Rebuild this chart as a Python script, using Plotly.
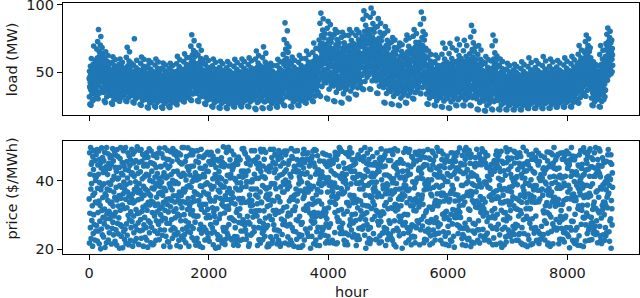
import plotly.graph_objects as go

# Values, in tenths (e.g. 452 -> 45.2).
# Each string is one 120-hour block of the year (73 blocks = 8760 h).
BLOCK_HOURS = 120

LOAD_BLOCKS = [
    "452 318 507 391 263 468 423 544 372 489 255 436 601 398 471 339 522 447 287 415 498 362 559 431 406 694 348 477 389 521 302 443 465 378 586 419 342 497 455 365",
    "563 418 672 495 317 604 541 728 446 589 303 527 816 482 611 397 653 558 345 512 624 468 702 537 579 765 431 596 507 641 362 548 683 459 592 521 384 617 575 489",
    "471 352 538 419 288 497 446 603 398 512 276 458 652 425 489 361 547 463 318 441 528 387 579 452 433 624 369 502 411 546 331 468 491 403 562 437 345 517 476 392",
    "438 327 512 392 271 465 417 571 366 482 263 429 614 398 456 338 519 441 297 413 496 359 548 426 404 593 344 473 385 517 309 437 462 377 531 409 321 488 445 368",
    "443 342 503 401 291 461 425 558 378 479 284 432 597 407 452 351 511 446 313 419 488 368 539 431 412 574 357 469 394 507 326 441 458 386 523 416 338 481 449 374",
    "456 341 531 408 289 478 433 611 379 497 283 447 684 411 469 352 548 459 308 428 512 371 583 439 421 652 359 488 397 536 324 452 476 389 567 424 336 503 463 376",
    "429 331 497 386 279 452 412 553 361 471 272 418 748 392 445 339 506 433 301 407 481 354 532 421 398 589 342 463 379 502 316 428 451 371 518 403 327 474 437 363",
    "432 318 506 384 262 457 409 566 357 478 254 421 612 389 449 331 514 436 291 405 487 351 543 419 397 596 338 466 374 509 303 429 455 366 527 401 314 481 441 359",
    "412 297 487 363 242 437 391 548 338 456 234 402 586 371 428 311 493 417 272 386 468 332 523 399 378 571 318 447 355 489 284 409 434 347 506 383 296 462 421 339",
    "408 301 483 367 249 441 386 553 334 461 241 398 597 366 431 308 497 413 276 391 472 327 528 404 373 576 322 452 351 494 289 411 438 342 511 379 293 466 418 336",
    "398 292 471 356 241 427 378 531 327 446 233 391 568 358 417 302 478 405 268 379 457 321 511 392 364 553 311 437 346 476 281 401 423 338 494 371 289 452 409 331",
    "403 296 468 359 246 424 382 528 331 443 239 394 566 362 414 306 481 401 271 383 454 326 507 396 368 549 316 433 349 473 284 398 427 341 491 376 293 449 411 334",
    "427 318 503 382 268 456 408 563 356 474 259 419 617 387 446 329 512 434 293 403 486 348 541 417 394 592 336 462 372 506 306 426 452 364 524 399 313 478 438 357",
    "442 336 517 397 287 469 421 578 371 489 279 433 637 402 459 346 526 448 309 417 499 363 556 431 409 608 351 476 388 519 322 439 466 379 538 413 331 492 452 372",
    "503 367 608 446 298 552 479 693 418 571 291 497 778 457 538 392 629 511 338 468 583 413 661 489 462 734 401 546 437 617 356 506 529 428 645 474 372 563 516 421",
    "467 344 558 412 289 503 443 627 387 521 283 456 697 421 489 362 572 471 316 432 531 381 601 451 427 663 369 499 403 563 331 463 486 397 587 438 349 516 473 392",
    "428 319 501 383 267 454 407 558 354 473 261 417 608 388 444 327 509 432 292 401 484 347 537 415 392 587 334 461 371 503 304 424 449 362 521 397 312 476 436 356",
    "413 301 486 366 248 438 392 547 337 459 241 403 598 369 429 309 494 416 273 387 471 329 524 401 377 574 319 449 352 492 287 408 436 344 509 381 294 463 422 339",
    "409 294 478 361 239 432 387 537 333 453 232 398 581 364 424 304 486 411 268 382 463 324 516 397 372 563 314 443 347 484 281 404 431 339 501 376 289 457 417 335",
    "401 289 472 354 238 426 379 532 326 447 231 392 579 357 418 299 481 404 264 376 457 318 511 389 366 558 309 437 341 478 277 398 424 333 496 369 284 451 411 329",
    "411 298 483 364 247 436 389 543 335 457 242 401 596 367 427 306 491 414 271 384 468 327 521 399 374 572 316 446 349 489 285 406 433 342 506 378 291 461 419 337",
    "419 304 491 372 251 444 398 551 343 466 243 409 597 376 436 314 498 423 278 392 476 334 529 408 383 579 323 455 357 497 292 414 442 351 514 386 298 469 427 344",
    "421 306 494 374 249 447 401 556 346 468 244 412 606 378 438 316 503 426 281 394 479 337 533 411 386 584 326 457 359 499 294 417 444 353 517 389 301 472 429 347",
    "441 307 523 386 232 472 416 597 351 489 224 427 657 394 458 324 534 446 276 408 506 343 568 432 399 623 331 481 367 527 289 436 463 358 547 403 298 496 451 352",
    "443 309 528 388 236 476 419 608 353 492 231 429 688 397 462 327 539 448 279 411 511 346 576 434 402 641 334 484 371 532 291 439 466 361 553 406 301 499 453 355",
    "398 291 469 356 237 424 381 528 328 444 232 393 566 359 416 301 478 403 267 377 454 321 507 391 367 549 311 434 343 474 279 397 421 336 492 372 287 448 408 331",
    "418 303 489 371 246 443 397 549 342 463 241 407 596 374 434 312 497 421 277 391 474 332 527 406 381 577 321 453 356 494 291 412 439 349 512 384 297 467 426 342",
    "497 352 632 438 258 561 473 742 401 587 251 489 866 447 546 376 671 508 318 459 603 397 713 482 453 807 384 556 423 648 338 501 528 417 689 466 361 579 512 409",
    "426 309 502 378 247 453 404 561 347 472 242 414 613 381 442 317 508 431 279 396 484 337 538 412 388 589 326 459 361 504 294 421 447 354 522 392 302 476 434 348",
    "437 318 512 386 256 463 414 573 357 482 251 424 626 391 452 327 519 441 287 406 494 347 549 423 398 602 336 468 371 514 303 431 458 363 533 402 312 487 444 358",
    "458 337 537 407 276 486 436 601 377 506 271 446 657 411 474 348 546 462 306 427 518 367 576 443 419 631 356 491 392 541 323 453 481 384 559 422 332 511 466 379",
    "488 356 576 434 289 521 464 648 401 541 282 476 716 438 507 369 587 493 323 454 554 389 617 472 446 677 377 524 417 581 342 483 513 408 597 449 352 546 497 401",
    "603 441 738 537 327 668 583 863 496 701 321 602 938 552 653 457 772 621 393 569 712 487 813 594 561 896 472 676 518 753 423 616 641 509 787 576 446 697 628 503",
    "583 422 709 518 308 643 562 826 477 676 302 579 877 532 631 439 741 598 374 549 686 468 783 571 541 853 454 651 498 722 404 592 618 489 757 556 428 671 604 484",
    "552 398 673 489 288 611 532 781 452 641 283 549 817 503 598 416 703 567 352 519 651 443 742 542 511 797 429 618 472 686 383 561 587 463 718 527 405 637 573 458",
    "533 383 651 472 277 589 513 759 436 619 272 529 796 486 577 401 681 547 341 501 629 427 718 523 493 773 414 597 456 663 369 542 567 447 694 508 391 616 552 441",
    "553 404 668 491 308 607 533 773 458 637 302 551 816 507 594 421 699 568 361 521 648 448 736 543 513 792 436 613 476 682 389 562 586 467 712 528 411 633 574 462",
    "561 421 672 503 337 613 544 774 471 642 332 558 817 516 601 437 703 576 384 531 653 463 741 551 523 796 451 621 489 687 407 569 593 481 718 537 428 638 582 476",
    "632 477 768 571 376 703 611 893 533 736 372 628 956 584 683 496 803 652 431 597 747 523 848 623 591 921 508 712 553 782 463 643 671 543 817 604 486 727 659 538",
    "643 483 781 579 377 714 621 907 541 748 373 639 976 593 694 503 816 663 437 606 759 531 861 632 601 938 516 723 562 796 469 654 683 551 831 613 492 738 671 546",
    "591 437 721 529 346 653 568 838 492 683 342 587 897 542 641 453 752 607 397 556 697 478 796 579 549 863 464 662 508 733 421 598 627 498 768 563 443 677 612 494",
    "543 386 667 481 277 603 523 788 443 631 272 539 838 494 587 407 697 557 342 509 643 433 737 533 502 807 418 608 463 678 371 551 576 453 712 518 394 627 563 449",
    "503 357 619 446 266 558 483 723 411 587 261 499 757 457 544 376 647 517 321 471 598 401 683 492 466 739 388 563 429 631 343 509 534 421 662 479 367 581 522 418",
    "482 343 592 428 256 534 463 691 394 561 251 478 716 438 521 361 618 496 308 452 572 386 653 471 447 704 372 539 412 604 329 487 511 404 633 459 353 556 501 401",
    "502 361 622 448 276 562 484 738 413 591 271 499 776 459 547 379 652 519 326 473 603 404 692 494 468 753 391 567 432 638 347 511 537 423 671 481 369 586 524 419",
    "532 389 653 474 306 591 514 766 439 621 301 531 816 489 578 406 683 548 349 503 632 433 721 526 496 787 419 598 459 667 376 543 568 451 698 511 396 617 554 446",
    "583 428 721 521 346 652 563 856 484 683 341 579 946 536 636 446 757 603 386 551 698 471 801 576 543 897 457 663 503 738 413 593 621 493 779 557 434 678 608 488",
    "463 339 546 412 266 493 438 611 381 511 262 451 657 417 481 352 556 468 306 432 524 371 583 447 423 632 359 497 396 548 326 457 486 389 566 428 337 517 471 384",
    "442 322 516 388 256 467 418 577 361 487 251 428 627 393 456 331 523 446 289 409 497 351 552 426 403 606 341 472 376 518 306 436 461 367 536 407 317 491 449 362",
    "453 314 548 401 246 491 428 633 366 509 241 441 716 407 478 338 561 461 286 421 527 357 598 444 414 677 346 501 383 552 303 451 482 376 576 417 321 516 466 371",
    "448 309 551 397 236 489 424 638 361 507 232 437 714 404 476 334 563 457 281 417 529 353 601 441 409 681 341 498 379 556 298 447 479 372 579 413 316 513 462 367",
    "466 322 571 413 256 508 439 663 377 527 251 456 746 419 494 348 584 474 296 433 548 368 623 457 427 703 356 518 394 576 311 462 497 387 601 431 331 536 479 383",
    "461 319 568 409 257 503 436 659 373 522 252 452 736 416 491 344 579 469 293 429 543 364 618 453 424 697 353 513 391 571 308 458 493 384 596 428 327 531 476 379",
    "503 342 636 446 257 563 478 761 401 591 251 497 847 452 548 371 667 517 311 466 612 396 718 491 459 803 381 573 424 652 332 508 537 417 689 477 358 594 526 412",
    "447 303 548 396 226 486 423 631 359 504 222 436 697 402 473 331 561 456 276 416 526 351 596 439 408 664 339 496 377 553 293 446 477 369 577 412 311 511 461 364",
    "409 286 493 364 216 446 387 567 331 463 212 398 616 369 432 303 503 418 253 381 478 322 536 402 372 593 311 454 346 497 269 407 436 339 519 379 283 468 423 336",
    "463 308 583 406 227 511 434 696 367 531 221 449 776 413 494 339 598 473 282 427 556 361 643 456 418 733 348 524 387 587 298 459 492 377 619 426 318 541 478 373",
    "408 291 486 362 226 441 386 553 329 461 221 396 597 367 429 302 497 416 257 379 472 321 527 401 371 579 311 451 344 491 271 406 433 337 512 377 284 463 421 334",
    "391 279 463 346 224 419 371 523 317 438 221 381 566 351 409 292 474 398 251 364 449 309 503 384 357 549 299 429 331 468 263 391 414 324 486 362 273 441 403 321",
    "388 276 459 343 223 416 368 518 313 436 222 378 558 348 407 289 469 394 249 361 446 306 498 381 354 541 297 426 328 464 261 388 411 322 482 359 271 437 401 318",
    "393 281 467 349 224 421 373 527 318 441 221 383 577 353 411 293 476 399 253 366 452 311 506 386 359 556 301 431 333 471 264 393 416 327 489 364 276 444 406 323",
    "403 289 478 357 234 432 382 541 326 452 231 392 607 362 421 301 488 409 261 374 463 318 518 394 367 572 308 442 341 481 272 401 427 334 503 372 283 456 414 331",
    "399 287 472 354 233 428 378 534 323 447 232 388 586 359 417 298 483 404 259 371 458 316 512 391 364 563 306 437 338 477 269 398 423 331 497 368 281 451 411 328",
    "411 293 487 362 236 437 389 549 331 458 231 398 616 368 428 306 496 414 264 379 469 323 524 401 372 583 313 447 346 489 276 407 432 339 509 377 287 462 419 336",
    "408 291 483 361 234 434 386 544 329 456 232 396 598 366 426 304 491 412 263 377 467 321 521 398 369 576 311 444 344 486 274 404 431 337 506 374 286 459 416 333",
    "409 296 479 363 243 432 387 539 333 454 241 397 587 367 424 308 488 411 268 379 464 324 516 398 372 568 316 443 348 483 279 406 429 341 502 376 291 457 417 337",
    "419 302 491 371 244 443 396 553 341 464 241 407 606 374 434 313 499 421 273 389 476 331 529 408 381 581 321 452 354 494 284 414 441 349 514 386 296 467 426 344",
    "428 306 501 378 246 452 404 563 347 472 242 416 617 381 443 318 507 429 276 396 484 337 538 416 388 592 327 461 361 503 288 422 448 356 523 393 301 476 436 351",
    "472 343 563 418 276 508 448 633 389 528 271 461 697 426 494 362 578 476 311 437 538 383 607 457 432 664 371 503 407 568 329 467 493 401 591 442 348 521 481 396",
    "541 403 648 484 327 591 519 727 453 612 322 537 776 493 576 418 667 553 366 508 622 443 698 531 503 748 431 596 471 653 391 546 572 462 681 517 409 607 559 458",
    "418 309 484 371 256 441 397 538 346 458 251 407 577 374 432 319 491 421 281 389 468 336 517 406 382 556 326 447 358 487 296 412 438 352 503 386 306 461 424 348",
    "448 312 546 397 246 487 423 631 362 506 242 436 697 403 474 334 559 457 283 417 526 351 597 441 409 663 343 496 378 553 298 446 478 371 578 413 318 513 463 367",
    "618 497 712 563 443 668 603 781 538 693 441 613 828 571 651 511 727 632 478 588 701 527 756 607 583 803 518 662 553 718 488 621 646 546 739 596 503 676 628 551",
]

PRICE_BLOCKS = [
    "347 218 482 305 419 263 497 376 231 448 392 284 455 327 209 471 358 246 433 301 488 272 415 364 227 459 338 401 253 476",
    "412 269 335 491 224 378 446 307 253 419 487 341 216 395 463 282 328 451 201 374 437 259 496 313 386 242 468 351 293 424",
    "236 458 391 274 317 483 205 362 429 288 441 356 219 497 303 376 265 418 342 479 227 394 451 311 248 436 372 289 467 334",
    "389 302 447 215 473 338 261 402 494 279 326 458 242 367 413 297 486 351 223 439 308 475 257 381 427 212 344 491 276 405",
    "471 245 326 408 292 357 439 203 386 465 314 271 497 349 238 422 381 266 453 329 204 417 362 488 251 396 443 319 228 374",
    "258 433 497 346 217 389 274 456 321 241 408 367 482 299 431 213 354 472 286 337 445 394 226 461 309 263 419 348 492 281",
    "423 361 209 478 335 452 297 248 413 374 223 486 341 268 397 459 316 231 438 382 257 499 304 366 421 277 345 214 453 392",
    "306 489 372 254 426 287 363 491 232 348 457 311 406 256 477 323 209 384 443 271 358 412 293 467 235 376 448 328 263 419",
    "482 227 314 443 371 206 469 337 283 416 362 493 248 329 401 277 453 356 219 487 341 264 428 379 307 451 213 397 336 474",
    "215 376 448 297 253 411 328 477 384 226 439 283 352 468 309 421 246 393 332 481 273 363 407 228 495 318 384 257 442 301",
    "367 441 283 396 479 324 241 358 412 291 467 337 209 423 378 256 496 314 447 289 371 238 408 346 463 276 331 489 222 413",
    "437 309 221 462 347 391 276 443 207 381 324 485 256 418 342 287 457 373 232 401 494 263 356 427 311 478 243 392 338 259",
    "292 486 397 318 242 473 356 211 428 461 303 249 392 344 481 226 418 367 298 453 334 207 476 283 413 357 238 449 321 497",
    "451 258 339 422 376 228 497 301 367 243 416 372 457 283 219 402 336 471 264 382 441 316 252 496 348 277 431 209 386 318",
    "328 417 476 249 303 442 381 266 489 337 234 398 313 476 352 261 443 298 409 226 368 487 341 279 423 364 212 457 296 403",
    "403 232 361 488 414 297 218 453 342 406 471 258 329 209 437 385 273 356 492 317 247 412 383 436 205 331 468 254 419 367",
    "264 473 412 308 227 389 443 331 256 478 292 361 428 394 248 483 317 234 427 361 298 456 223 349 476 293 387 341 272 448",
    "483 342 247 376 459 263 321 406 472 213 449 308 383 251 341 296 462 418 279 203 439 352 277 408 318 462 243 396 487 229",
    "372 206 458 427 289 411 367 236 349 302 388 443 227 467 406 331 218 382 453 342 263 499 326 253 441 382 306 447 214 356",
    "229 398 321 263 483 346 248 492 416 367 241 326 498 317 272 443 377 291 345 461 408 231 419 362 292 487 336 227 365 432",
    "446 287 439 351 212 476 407 283 237 447 332 263 402 379 453 223 308 461 236 394 316 448 373 211 469 347 278 413 348 298",
    "318 461 373 226 394 253 336 428 381 276 493 411 348 229 286 412 494 253 428 277 483 269 337 478 256 416 383 229 451 396",
    "397 242 296 467 338 429 279 209 461 342 216 358 274 446 397 327 241 376 311 488 342 397 246 403 329 294 458 376 311 264",
    "251 419 488 307 456 301 462 358 312 407 376 448 297 333 211 469 352 436 263 407 228 451 313 282 441 367 218 492 427 338",
    "484 336 261 413 247 386 228 443 276 491 254 312 463 411 381 238 407 291 483 352 263 376 432 359 207 325 437 269 346 215",
    "356 209 427 381 297 443 361 329 492 236 439 287 392 217 468 343 286 227 391 454 313 492 271 341 424 257 391 478 302 449",
    "433 377 314 238 474 216 408 256 353 307 462 351 226 488 309 253 471 416 339 209 443 382 216 467 288 482 312 243 419 367",
    "272 452 396 452 322 367 283 487 426 389 218 402 476 271 432 391 324 487 268 376 297 236 448 306 395 213 458 341 384 273",
    "419 301 227 346 411 494 352 218 471 263 349 466 314 346 253 428 209 356 442 313 487 359 324 433 251 376 286 426 229 462",
    "341 488 362 283 206 428 447 391 243 412 296 237 403 458 371 206 447 273 397 241 421 278 463 211 479 348 437 317 492 354",
    "227 363 453 419 376 259 314 462 327 478 371 423 248 393 318 482 367 238 463 381 332 443 387 306 262 411 203 453 376 283",
    "466 238 297 472 331 348 487 276 384 216 452 308 491 279 441 336 294 419 227 489 359 212 251 426 374 473 341 264 306 432",
    "392 421 341 211 458 403 236 413 296 367 247 386 332 426 263 414 256 481 308 411 263 457 392 478 318 241 408 297 449 218",
    "308 274 476 397 289 223 442 367 451 238 409 321 264 457 387 219 473 338 446 274 396 338 429 223 459 354 373 226 381 367",
    "451 356 218 338 421 462 393 249 307 483 331 472 417 216 348 462 381 293 219 352 477 281 313 362 442 284 497 413 263 494",
    "246 489 407 264 377 316 254 486 362 421 276 246 363 397 452 303 226 408 367 436 214 402 481 247 391 419 221 336 478 311",
    "379 213 336 483 242 438 471 327 434 269 496 358 287 441 276 391 427 256 482 301 348 461 236 409 336 277 446 357 243 406",
    "428 342 461 303 451 284 337 211 393 346 228 413 468 321 239 476 343 418 261 393 229 376 418 288 463 341 312 489 396 263",
    "297 467 258 414 329 376 409 458 268 471 386 303 241 497 413 358 286 203 433 327 451 307 273 481 219 428 387 258 326 447",
    "463 231 392 356 217 492 263 352 413 227 319 447 396 353 287 422 471 339 376 246 412 367 446 329 382 296 453 419 371 228",
    "314 396 447 229 482 353 426 281 307 438 363 271 428 218 464 308 239 451 297 468 281 493 222 403 354 461 247 309 441 387",
    "377 248 304 468 263 417 328 476 443 362 211 487 336 374 259 391 417 366 228 387 318 246 459 362 283 237 413 488 276 346",
    "243 459 371 321 406 231 489 361 226 394 477 319 254 406 442 214 367 283 493 331 447 374 312 207 436 392 328 261 417 453",
    "488 317 426 253 347 452 296 239 376 281 408 354 462 283 327 459 296 411 346 203 362 428 271 451 379 246 483 356 388 302",
    "356 403 278 494 386 219 373 414 492 336 263 429 301 446 371 249 483 227 418 376 491 254 348 419 263 327 441 213 236 471",
    "271 342 469 397 238 327 448 268 313 457 379 236 392 219 483 347 396 312 263 458 337 406 283 476 336 408 359 277 431 323",
    "437 486 213 331 463 408 257 346 436 287 421 348 472 358 268 406 331 442 486 296 219 373 447 229 391 468 253 392 307 384",
    "312 227 397 446 281 376 491 403 259 392 248 466 323 278 434 213 463 378 239 361 432 287 403 356 487 317 218 446 482 256",
    "459 381 326 278 418 243 336 227 472 343 417 292 437 387 246 497 362 278 411 327 266 486 339 247 442 381 426 338 273 412",
    "226 443 487 364 357 462 413 386 302 216 478 363 251 407 341 289 438 306 453 238 398 357 214 462 311 293 347 472 421 346",
    "398 267 248 417 211 339 286 457 346 438 363 227 413 302 482 371 223 456 387 274 443 316 481 376 238 419 466 206 361 293",
    "341 426 457 302 472 293 437 314 406 271 294 483 358 246 313 438 343 268 327 496 308 262 427 293 451 348 262 387 447 231",
    "474 213 386 243 329 421 353 261 236 488 447 338 276 463 424 211 497 392 263 358 476 433 366 228 397 256 411 317 232 489",
    "287 356 314 451 468 369 208 478 423 358 221 414 391 342 253 367 276 419 448 336 218 387 247 441 273 468 323 451 368 413",
    "413 492 341 383 257 226 447 321 283 402 334 257 478 218 392 466 354 239 307 457 382 447 312 493 346 327 486 258 297 347",
    "236 317 462 227 396 483 338 396 451 241 472 389 306 439 281 247 413 474 381 226 411 293 439 354 221 402 378 434 426 268",
    "358 447 293 418 344 312 261 427 213 363 297 451 233 367 459 428 319 291 436 348 263 476 214 371 487 258 447 302 353 472",
    "461 273 407 349 476 437 386 242 379 427 218 336 402 486 314 373 206 457 258 403 336 358 451 286 307 429 213 377 264 339",
    "307 416 236 496 221 283 453 372 484 296 341 467 371 256 433 242 461 381 329 291 491 237 313 419 442 341 368 466 408 224",
    "384 251 353 267 402 398 327 486 243 452 397 262 483 319 273 409 348 226 468 412 317 388 269 433 226 476 297 243 342 451",
    "246 482 441 313 358 471 218 304 419 337 263 408 214 442 382 498 286 449 371 246 428 352 407 212 361 393 451 318 487 296",
    "429 336 208 456 289 241 392 446 361 228 476 319 387 276 347 318 436 213 403 357 262 463 338 289 478 216 382 427 261 373",
    "352 247 386 423 463 337 468 263 297 489 386 226 458 339 224 456 372 253 446 481 339 217 408 456 246 347 229 401 372 418",
    "473 403 267 231 376 408 242 358 434 312 243 438 306 421 469 283 227 396 327 308 433 391 276 371 336 484 307 458 213 247",
    "218 359 441 378 302 483 326 411 209 447 358 294 481 252 367 392 441 338 476 274 216 452 346 413 497 263 436 352 437 326",
    "396 461 327 287 434 256 471 378 336 261 411 477 346 388 216 437 331 279 229 416 378 296 481 229 313 408 261 381 286 463",
    "331 228 482 411 249 342 393 221 473 386 292 248 413 297 459 346 263 487 453 348 243 436 367 441 387 237 479 318 446 204",
    "457 376 263 347 463 413 256 497 282 427 358 463 226 472 281 419 361 221 342 398 461 217 302 471 256 351 342 426 227 387",
    "263 417 392 212 319 446 378 327 443 239 476 317 367 401 359 211 488 408 273 436 314 391 448 328 379 416 293 208 496 351",
    "418 291 356 483 386 224 431 271 358 461 306 387 451 246 329 472 297 352 434 257 486 226 363 413 264 493 384 356 441 276",
    "293 467 228 441 277 391 316 462 247 329 413 258 338 482 437 268 413 243 497 319 367 421 283 248 437 371 219 462 312 428",
    "446 352 493 306 421 267 487 239 412 381 227 443 291 217 376 443 328 467 316 388 242 338 457 389 301 226 453 337 397 263",
    "328 239 374 457 248 409 352 396 321 476 359 491 413 364 251 387 223 406 283 453 404 289 476 203 342 448 318 271 423 381",
]

X_TICKS = [0, 2000, 4000, 6000, 8000]
LOAD_TICKS = [50, 100]
PRICE_TICKS = [20, 40]


def unpack(blocks):
    hours, values = [], []
    for b, blk in enumerate(blocks):
        vals = blk.split()
        n = len(vals)
        for k, v in enumerate(vals):
            hours.append(b * BLOCK_HOURS + k * BLOCK_HOURS / n)
            values.append(int(v) / 10)
    return hours, values


load_hours, load = unpack(LOAD_BLOCKS)
price_hours, price = unpack(PRICE_BLOCKS)

BLUE = "#1f77b4"
FONT = "DejaVu Sans"
TXT = "#1a1a1a"
MSIZE = 5.6

fig = go.Figure()
fig.add_trace(go.Scatter(x=load_hours, y=load, mode="markers", xaxis="x", yaxis="y",
                         marker=dict(color=BLUE, size=MSIZE, line=dict(width=0)),
                         hoverinfo="skip"))
fig.add_trace(go.Scatter(x=price_hours, y=price, mode="markers", xaxis="x2", yaxis="y2",
                         marker=dict(color=BLUE, size=MSIZE, line=dict(width=0)),
                         hoverinfo="skip"))

axis_common = dict(showline=True, linecolor="black", linewidth=1.1, mirror=True,
                   ticks="outside", ticklen=5, tickwidth=1.1, tickcolor="black",
                   showgrid=False, zeroline=False, automargin=False,
                   ticklabeloverflow="allow",
                   tickfont=dict(family=FONT, size=14.5, color=TXT))

fig.update_layout(
    template="none",
    width=640, height=298,
    margin=dict(l=63, r=1, t=3, b=44, autoexpand=False),
    paper_bgcolor="white", plot_bgcolor="white",
    showlegend=False,
    hovermode=False,
    xaxis=dict(domain=[0, 1], range=[-438, 9198], tickvals=X_TICKS,
               showticklabels=False, anchor="y", **axis_common),
    yaxis=dict(domain=[0.554, 1.0], range=[18.3, 101.3], tickvals=LOAD_TICKS,
               anchor="x", **axis_common),
    xaxis2=dict(domain=[0, 1], range=[-438, 9198], tickvals=X_TICKS,
                anchor="y2", **axis_common),
    yaxis2=dict(domain=[0.0, 0.450], range=[18.6, 51.6], tickvals=PRICE_TICKS,
                anchor="x2", **axis_common),
    annotations=[
        dict(text="load (MW)", xref="paper", yref="paper", x=-0.088, y=0.777,
             textangle=-90, showarrow=False, xanchor="center", yanchor="middle",
             font=dict(family=FONT, size=14.5, color=TXT)),
        dict(text="price ($/MWh)", xref="paper", yref="paper", x=-0.088, y=0.262,
             textangle=-90, showarrow=False, xanchor="center", yanchor="middle",
             font=dict(family=FONT, size=14.5, color=TXT)),
        dict(text="hour", xref="paper", yref="paper", x=0.5, y=-0.112,
             showarrow=False, xanchor="center", yanchor="top",
             font=dict(family=FONT, size=14.5, color=TXT)),
    ],
)

fig.write_html(
    "out.html",
    config={"displayModeBar": False, "staticPlot": True},
    post_script="document.body.style.margin='0px';document.body.style.padding='0px';",
)
